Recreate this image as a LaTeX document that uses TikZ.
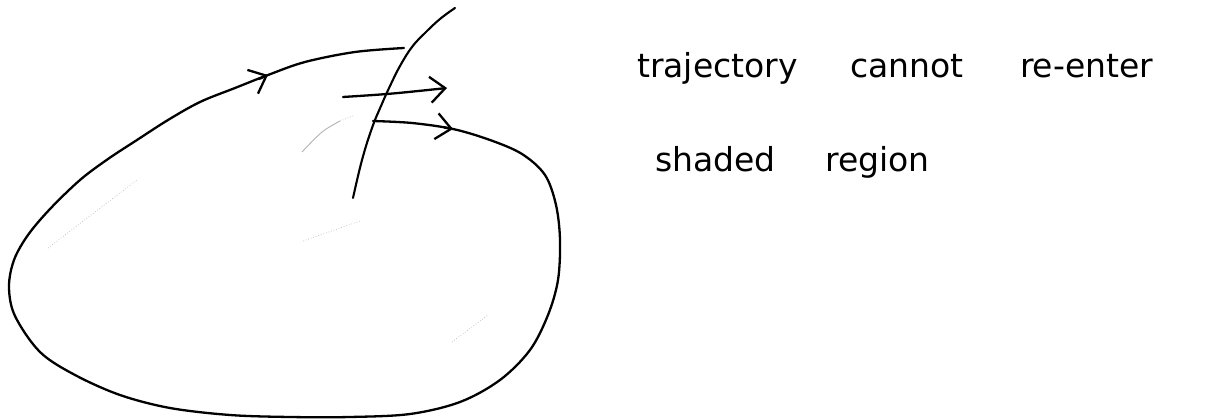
\documentclass[tikz,border=0pt]{standalone}
\usepackage{fontspec}
\setmainfont{DejaVu Sans}
\usetikzlibrary{arrows.meta}
\begin{document}
\begin{tikzpicture}[x=1pt,y=-1pt,
  curve/.style={line width=2.3pt, line cap=round, line join=round},
  tipstyle/.style={line width=2.3pt, -{Straight Barb[length=15pt,width=26pt,line width=2.3pt]}},
  faint/.style={gray!55, line width=0.7pt, dotted},
  txt/.style={anchor=base west, inner sep=0pt, font=\fontsize{33}{40}\selectfont}]
\useasboundingbox (0,0) rectangle (1221,419);
% closed trajectory
\draw[curve] plot[smooth, tension=0.55] coordinates {
 (373,121) (412,123) (453,129) (490,140) (522,154) (545,175) (556,205)
 (560,240) (558,280) (548,315) (530,350) (500,380) (460,402) (410,414)
 (350,417) (290,417) (230,415) (170,408) (120,395) (75,375) (40,352)
 (15,316) (9,287) (14,260) (28,235) (50,209) (80,180) (108,159)
 (137,140) (168,120) (200,102) (235,88) (268,75) (305,62) (355,52) (404,48)};
% arrowheads on the trajectory
\draw[tipstyle] (444,127.5) -- (453,129);
\draw[tipstyle] (259,79) -- (268,75);
% crossing line
\draw[curve, line width=2.1pt] plot[smooth, tension=0.7] coordinates {
 (455,8) (440,19) (425,33) (412,47) (400,66) (390,86) (381,106)
 (372,128) (362,160) (353,198)};
% middle arrow
\draw[curve, tipstyle] (343,97) .. controls (390,94) .. (447,88);
% faint boundary of shaded region
\draw[gray!60, line width=0.9pt] plot[smooth] coordinates {(302,152) (322,132) (340,121)};
\draw[faint] (340,121) -- (355,115);
% faint shading
\draw[faint] (48,248) -- (137,180);
\draw[faint] (452,342) -- (488,315);
\draw[faint] (303,241) -- (360,221);
% text
\node[txt] (line1) at (637,78) {trajectory\hspace{42pt} cannot\hspace{46pt} re-enter};
\node[txt] (line2) at (655,172) {shaded\hspace{39pt} region};
\end{tikzpicture}
\end{document}
